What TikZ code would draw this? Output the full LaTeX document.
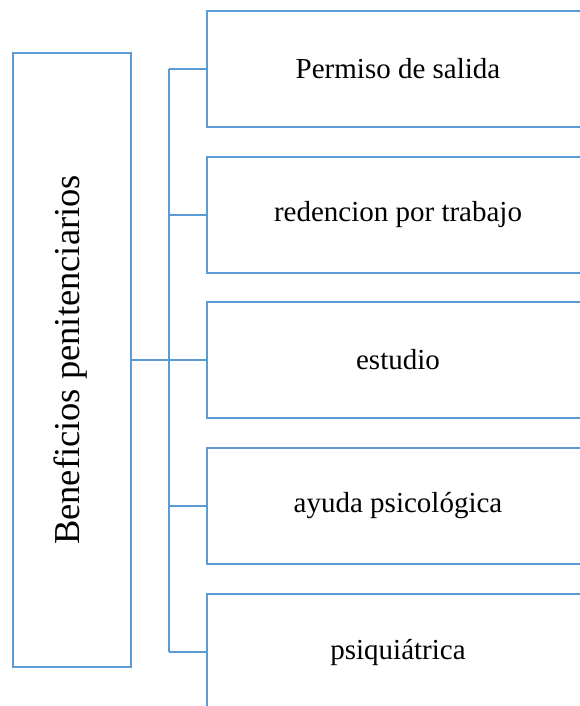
\documentclass[tikz,border=0pt]{standalone}
\usepackage{fontspec}
\setmainfont{Liberation Serif}
\definecolor{boxblue}{HTML}{5B9BD5}
\begin{document}
\begin{tikzpicture}[x=1pt,y=-1pt,
  line/.style={draw=boxblue,line width=2.6pt},
  itembox/.style={line,rectangle,minimum width=382pt,minimum height=116pt,inner sep=0pt,anchor=center,font=\fontsize{29}{34}\selectfont},
  mainbox/.style={line,rectangle,minimum width=118pt,minimum height=614pt,inner sep=0pt}]
\useasboundingbox (0,0) rectangle (580,706);
\node[mainbox] (L) at (72,360) {};
\node[rotate=90,font=\fontsize{36.5}{42}\selectfont] (Lt) at (71,360) {Beneficios penitenciarios};
\node[itembox] (b1) at (398,69) {Permiso de salida};
\node[itembox] (b2) at (398,215) {redencion por trabajo};
\node[itembox] (b3) at (398,360) {estudio};
\node[itembox] (b4) at (398,506) {ayuda psicológica};
\node[itembox] (b5) at (398,652) {psiquiátrica};
\coordinate (j) at (169,360);
\draw[line] (L.east) -- (j);
\draw[line] (j |- b1.west) -- (j |- b5.west);
\foreach \b in {b1,b2,b3,b4,b5} \draw[line] (j |- \b.west) -- (\b.west);
\end{tikzpicture}
\end{document}
